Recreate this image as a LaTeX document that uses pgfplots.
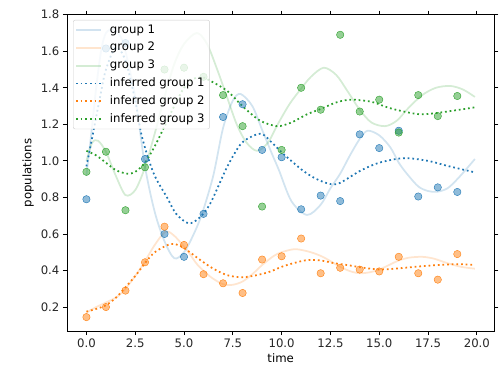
\documentclass[border=0pt]{standalone}
\usepackage{pgfplots}
\pgfplotsset{compat=1.18}
\usepackage{fontspec}
\setmainfont{DejaVu Sans}
\definecolor{C0}{HTML}{1F77B4}
\definecolor{C1}{HTML}{FF7F0E}
\definecolor{C2}{HTML}{2CA02C}
\newcommand{\fs}{\fontsize{11.7}{14}\selectfont}
\begin{document}
\begin{tikzpicture}
\useasboundingbox (-67pt,-33pt) rectangle (435pt,331pt);
\begin{axis}[
  at={(0,0)}, anchor=south west,
  scale only axis, width=427.3pt, height=316.3pt,
  xmin=-0.995, xmax=20.895, ymin=0.069, ymax=1.80,
  xtick={0,2.5,5,7.5,10,12.5,15,17.5,20},
  ytick={0.2,0.4,0.6,0.8,1.0,1.2,1.4,1.6,1.8},
  xticklabel style={/pgf/number format/.cd, fixed, fixed zerofill, precision=1},
  yticklabel style={/pgf/number format/.cd, fixed, fixed zerofill, precision=1},
  /pgf/number format/assume math mode=true,
  tick align=outside, major tick length=4.1pt,
  tick style={black, line width=0.94pt},
  axis line style={black, line width=0.94pt},
  every tick label/.append style={font=\fs, text=black!85},
  label style={font=\fs},
  xlabel={time}, ylabel={populations},
  xlabel style={yshift=1pt},
  legend cell align=left,
  legend style={at={(0,1)}, anchor=north west, xshift=6pt, yshift=-5.3pt,
    draw=black!20, rounded corners=2pt, fill=white, fill opacity=0.8, text opacity=1,
    font=\fs, inner xsep=2pt, inner ysep=1pt, row sep=0pt, column sep=5pt,
    nodes={inner xsep=3pt, inner ysep=3pt, text height=8.9pt, text depth=2.9pt}},
  legend image code/.code={\draw[#1] (0pt,0pt) -- (25pt,0pt);},
  truel/.style={line width=1.75pt, opacity=0.2, smooth, tension=0.5},
  infl/.style={line width=1.75pt, dash pattern=on 1.75pt off 2.9pt, smooth, tension=0.5},
  pts/.style={only marks, mark=*, mark size=3.7pt, mark options={draw=none, fill opacity=0.5}},
]
% observations
\addplot[pts, C0, forget plot] coordinates {
(0,0.79) (1,1.615) (2,1.645) (3,1.01) (4,0.60) (5,0.475) (6,0.71) (7,1.24) (8,1.31) (9,1.06)
(10,1.02) (11,0.735) (12,0.81) (13,0.78) (14,1.145) (15,1.07) (16,1.165) (17,0.805) (18,0.855) (19,0.83)};
\addplot[pts, C1, forget plot] coordinates {
(0,0.145) (1,0.20) (2,0.29) (3,0.445) (4,0.64) (5,0.54) (6,0.38) (7,0.33) (8,0.277) (9,0.46)
(10,0.478) (11,0.575) (12,0.385) (13,0.415) (14,0.405) (15,0.395) (16,0.475) (17,0.385) (18,0.35) (19,0.49)};
\addplot[pts, C2, forget plot] coordinates {
(0,0.94) (1,1.05) (2,0.73) (3,0.965) (4,1.50) (5,1.51) (6,1.46) (7,1.36) (8,1.19) (9,0.75)
(10,1.06) (11,1.40) (12,1.28) (13,1.69) (14,1.27) (15,1.335) (16,1.155) (17,1.36) (18,1.245) (19,1.355)};
% true curves
\addplot[truel, C0] coordinates {
(0,0.92) (0.25,1.15) (0.5,1.40) (0.75,1.60) (1.0,1.70) (1.4,1.72) (1.75,1.68) (2.0,1.60) (2.5,1.35)
(3.0,0.97) (3.5,0.72) (4.0,0.56) (4.5,0.467) (5.0,0.50) (5.5,0.60) (5.93,0.713) (6.5,0.92) (7.0,1.18)
(7.5,1.33) (7.9,1.366) (8.5,1.30) (9.0,1.17) (9.5,1.04) (9.86,0.95) (10.5,0.78) (11.3,0.704) (12.0,0.76)
(12.5,0.85) (13.0,0.93) (13.5,1.03) (14.0,1.12) (14.4,1.165) (15.0,1.14) (15.57,1.074) (16.0,0.99)
(16.43,0.928) (17.0,0.86) (17.5,0.835) (17.97,0.831) (18.5,0.85) (19.0,0.90) (19.5,0.96) (19.9,1.01)};
\addlegendentry{group 1}
\addplot[truel, C1] coordinates {
(0,0.17) (0.5,0.20) (1.0,0.225) (1.57,0.256) (2.0,0.30) (2.5,0.37) (2.94,0.44) (3.5,0.54) (4.05,0.612)
(4.5,0.59) (5.16,0.51) (5.7,0.43) (6.35,0.366) (7.0,0.325) (7.5,0.322) (8.0,0.34) (8.5,0.38) (9.0,0.43)
(9.6,0.48) (10.0,0.50) (10.7,0.517) (11.5,0.50) (12.16,0.472) (13.0,0.42) (13.6,0.393) (14.04,0.385)
(14.5,0.39) (15.0,0.405) (15.5,0.43) (16.0,0.455) (16.5,0.47) (17.2,0.475) (17.8,0.465) (18.5,0.44)
(19.2,0.42) (19.9,0.41)};
\addlegendentry{group 2}
\addplot[truel, C2] coordinates {
(0,1.00) (0.3,1.10) (0.6,1.11) (1.0,1.05) (1.5,0.92) (2.0,0.813) (2.5,0.84) (3.0,0.965) (3.5,1.15)
(4.0,1.35) (4.5,1.53) (5.0,1.64) (5.66,1.70) (6.18,1.64) (6.7,1.50) (7.2,1.35) (7.7,1.20) (8.2,1.10)
(8.74,1.055) (9.3,1.10) (9.8,1.20) (10.4,1.31) (10.96,1.39) (11.5,1.46) (12.16,1.51) (12.8,1.47)
(13.36,1.384) (14.0,1.28) (14.6,1.21) (15.3,1.19) (15.9,1.22) (16.5,1.29) (17.2,1.36) (17.9,1.40)
(18.65,1.41) (19.3,1.39) (19.9,1.35)};
\addlegendentry{group 3}
% inferred curves
\addplot[infl, C0] coordinates {
(0,0.97) (0.3,1.13) (0.7,1.35) (1.0,1.50) (1.5,1.62) (2.0,1.55) (2.5,1.33) (2.85,1.13) (3.45,0.93)
(4.13,0.80) (4.6,0.71) (5.24,0.658) (5.8,0.69) (6.35,0.768) (7.2,0.965) (7.89,1.09) (8.5,1.135)
(9.0,1.147) (9.5,1.10) (10.1,1.037) (11.1,0.946) (11.8,0.90) (12.5,0.873) (13.0,0.88) (14.03,0.946)
(15.0,0.99) (16.26,1.015) (17.5,1.00) (18.48,0.973) (19.9,0.937)};
\addlegendentry{inferred group 1}
\addplot[infl, C1] coordinates {
(0,0.175) (0.5,0.19) (1.0,0.21) (1.5,0.25) (2.0,0.308) (2.5,0.37) (3.0,0.44) (3.5,0.50) (4.3,0.545)
(4.8,0.535) (5.3,0.50) (5.84,0.457) (6.5,0.41) (7.2,0.375) (7.89,0.363) (8.5,0.37) (9.3,0.39) (10.0,0.42)
(10.6,0.44) (11.3,0.457) (12.0,0.455) (12.7,0.44) (13.36,0.43) (14.2,0.415) (15.0,0.406) (15.8,0.41)
(16.8,0.42) (18.0,0.43) (19.0,0.435) (19.9,0.43)};
\addlegendentry{inferred group 2}
\addplot[infl, C2] coordinates {
(0,1.055) (0.5,1.03) (1.0,0.99) (1.5,0.95) (2.08,0.93) (2.5,0.94) (3.0,0.99) (3.5,1.08) (3.96,1.18)
(4.5,1.30) (5.0,1.40) (5.5,1.45) (6.0,1.455) (6.18,1.448) (7.2,1.384) (8.06,1.293) (8.9,1.22) (9.77,1.19)
(10.5,1.21) (11.3,1.255) (12.0,1.284) (12.8,1.32) (13.5,1.335) (14.2,1.33) (14.72,1.32) (15.5,1.29)
(16.43,1.266) (17.1,1.255) (17.8,1.26) (18.8,1.275) (19.9,1.293)};
\addlegendentry{inferred group 3}
\end{axis}
\end{tikzpicture}
\end{document}
